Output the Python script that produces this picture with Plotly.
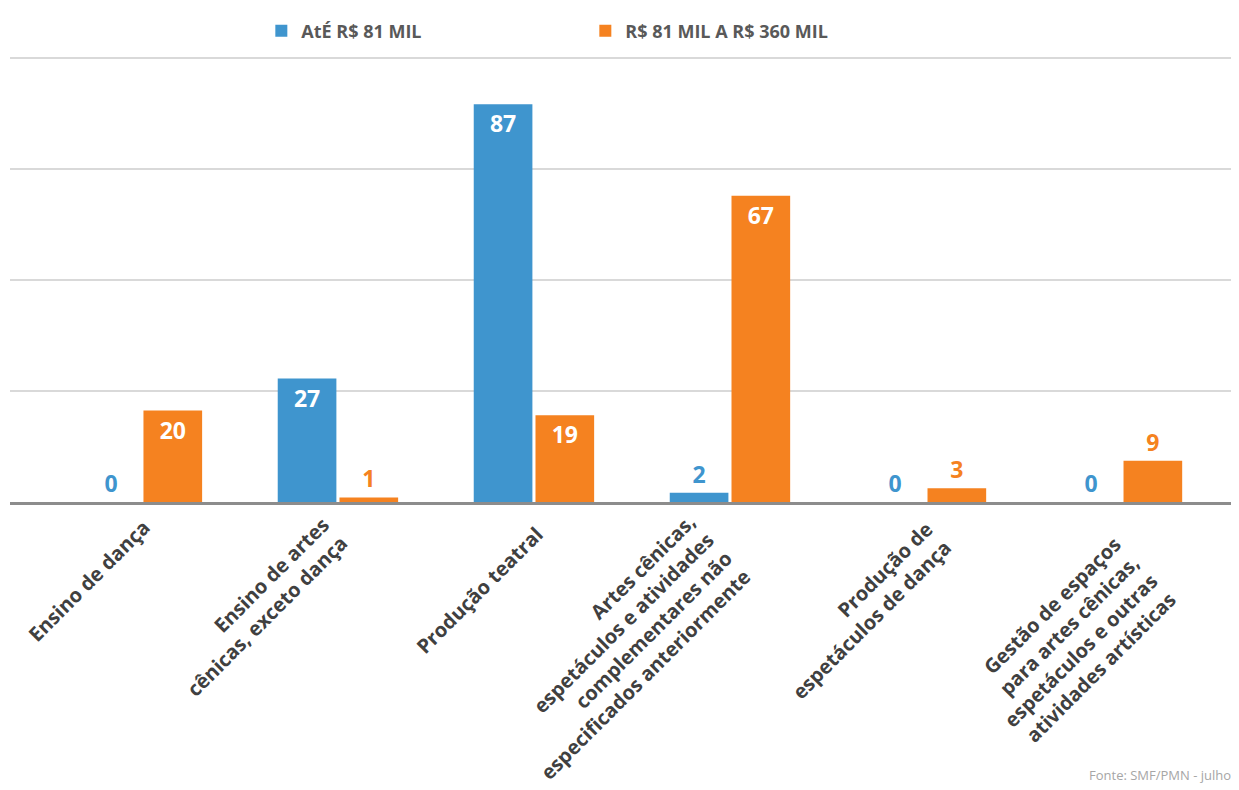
import plotly.graph_objects as go

categorias = [
    "Ensino de dança",
    "Ensino de artes<br>cênicas, exceto dança",
    "Produção teatral",
    "Artes cênicas,<br>espetáculos e atividades<br>complementares não<br>especificados anteriormente",
    "Produção de<br>espetáculos de dança",
    "Gestão de espaços<br>para artes cênicas,<br>espetáculos e outras<br>atividades artísticas",
]
ate_81 = [0, 27, 87, 2, 0, 0]
de_81_a_360 = [20, 1, 19, 67, 3, 9]

nome_ate_81 = "AtÉ R$ 81 MIL"
nome_81_360 = "R$ 81 MIL A R$ 360 MIL"
fonte = "Fonte: SMF/PMN - julho"

AZUL = "#3f95ce"
LARANJA = "#f58220"
CINZA_TXT = "#404040"
FONT = "Open Sans"

# deslocamento (px) do centro de cada rotulo girado em relacao ao eixo
rot_dx = [-53, -80, -55, -112, -64, -51]
rot_dy = [-78, -104, -88, -144, -108, -139]

x_idx = list(range(len(categorias)))


def barra(valores, nome, cor):
    pos = ["inside" if v >= 15 else "outside" for v in valores]
    cores = ["white" if p == "inside" else cor for p in pos]
    return go.Bar(
        x=x_idx, y=valores, name=nome,
        marker=dict(color=cor, line=dict(width=0)),
        text=[str(v) for v in valores],
        textposition=pos,
        insidetextanchor="end",
        textfont=dict(family=FONT, size=23, color=cores, weight="bold"),
        cliponaxis=False,
        hoverinfo="x+y+name",
    )


fig = go.Figure()
fig.add_trace(barra(ate_81, nome_ate_81, AZUL))
fig.add_trace(barra(de_81_a_360, nome_81_360, LARANJA))

# rotulos das categorias, girados e alinhados a direita
for i, cat in enumerate(categorias):
    fig.add_annotation(
        x=i, y=0, xref="x", yref="paper",
        text=cat, showarrow=False, textangle=-45, align="right",
        xanchor="center", yanchor="middle",
        xshift=rot_dx[i], yshift=rot_dy[i],
        font=dict(family=FONT, size=20, color=CINZA_TXT, weight="bold"),
    )

fig.add_annotation(
    x=1, y=-0.609, xref="paper", yref="paper", text=fonte,
    showarrow=False, xanchor="right", yanchor="middle", xshift=-6,
    font=dict(family=FONT, size=13, color="#a6a6a6"),
)

# a pagina tem margem de 8px no body: figura um pouco menor que a janela
fig.update_layout(
    width=1231, height=782,
    margin=dict(l=2, r=0, t=46, b=288),
    paper_bgcolor="white", plot_bgcolor="white",
    barmode="group", bargap=0.37, bargroupgap=0.05,
    showlegend=True,
    legend=dict(
        orientation="h", x=0.2045, xanchor="left",
        yref="container", y=1 - 23 / 782, yanchor="middle",
        entrywidth=279, entrywidthmode="pixels",
        font=dict(family=FONT, size=18, color="#595959", weight="bold"),
        traceorder="normal",
    ),
    xaxis=dict(
        range=[-0.673, 5.597], showticklabels=False, showgrid=False,
        showline=True, linecolor="#8c8c8c", linewidth=3, zeroline=False,
        fixedrange=True,
    ),
    yaxis=dict(
        range=[0, 98], tickvals=[24.3, 48.6, 72.9, 97.2],
        showticklabels=False, gridcolor="#d9d9d9", gridwidth=1.5,
        zeroline=False, fixedrange=True,
    ),
)

fig.write_html("out.html")
